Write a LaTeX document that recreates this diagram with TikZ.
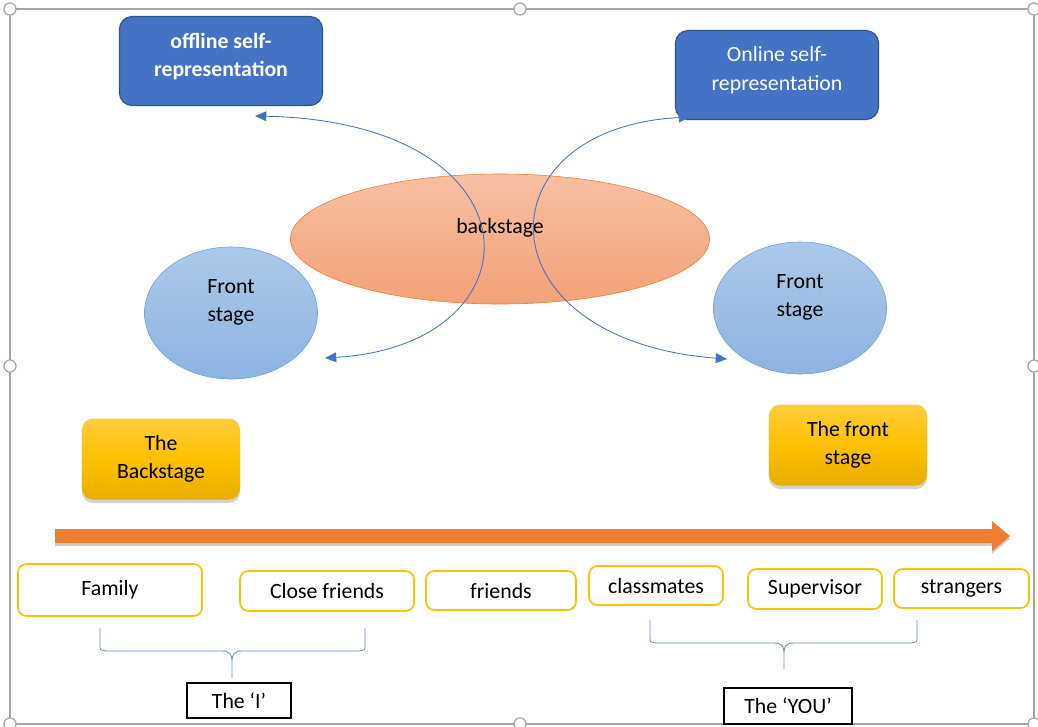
\documentclass[tikz,border=0pt]{standalone}
\usepackage{fontspec}
\setmainfont{Carlito}
\usetikzlibrary{
    arrows.meta,
    calc,
    positioning,
    shapes.geometric,
    shadows
}
\definecolor{selfblue}{HTML}{4472C4}
\definecolor{selfline}{HTML}{2F528F}
\definecolor{stageorange}{HTML}{ED7D31}
\definecolor{peachtop}{HTML}{F7BFA2}
\definecolor{peachbot}{HTML}{F3A277}
\definecolor{frontbluetop}{HTML}{ABC9EA}
\definecolor{frontbluebot}{HTML}{8DB3E2}
\definecolor{frontline}{HTML}{6F9FD8}
\definecolor{goldtop}{HTML}{FFCD3C}
\definecolor{goldmid}{HTML}{FFC000}
\definecolor{goldbot}{HTML}{E8AE00}
\definecolor{audline}{HTML}{FFC000}
\definecolor{framegray}{HTML}{A6A6A6}
\definecolor{bracecol}{HTML}{6C8EC9}
\newcommand{\diagfont}{\fontsize{15.5}{20.3}\selectfont}

\begin{document}
\begin{tikzpicture}[x=0.025cm, y=-0.025cm, >={Triangle[length=8pt, width=7pt]},
    font=\diagfont,
    selfbox/.style={draw=selfline, thick, fill=selfblue, rounded corners=9pt,
                    text=white, align=center, minimum width=5.075cm,
                    minimum height=2.225cm, text depth=9pt},
    stage/.style={ellipse, draw=frontline, top color=frontbluetop,
                  bottom color=frontbluebot, align=center, inner sep=0pt,
                  minimum width=4.325cm, minimum height=3.3cm, text depth=17.7pt},
    goldbox/.style={rounded corners=8pt, top color=goldtop, bottom color=goldbot,
                    middle color=goldmid, align=center, minimum width=3.95cm,
                    minimum height=2.025cm,
                    drop shadow={opacity=0.35, shadow xshift=0pt, shadow yshift=-2.5pt}},
    audience/.style={draw=audline, line width=1.2pt, rounded corners=6pt,
                     fill=white, minimum height=1cm},
    selfname/.style={draw, thick, fill=white, minimum height=0.9cm},
    swing/.style={<->, selfblue, line width=0.6pt},
    braceline/.style={bracecol, line width=0.6pt}]
    \useasboundingbox (0,0) rectangle (1038,726);
    % frame and handles
    \draw[framegray, line width=0.8pt] (10,9) rectangle (1034,724);
    \foreach \hx/\hy in {10/9, 520/9, 1034/9, 10/366, 1034/366, 10/724, 520/724, 1034/724}
        \draw[framegray, fill=white, line width=0.9pt] (\hx,\hy) circle (4.3pt);

    % top part
    \node[selfbox, font=\diagfont\bfseries] (offline) at (221,61) {offline self-\\representation};
    \node[selfbox] (online) at (777,75) {Online self-\\representation};
    \node[ellipse, draw=stageorange, top color=peachtop, bottom color=peachbot,
          minimum width=10.475cm, minimum height=3.25cm, text depth=18pt]
          (back) at (500,239) {backstage};
    \node[stage] (frontL) at (231,313) {Front\\stage};
    \node[stage] (frontR) at (800,308) {Front\\stage};

    \coordinate (offIn) at (255,116);
    \coordinate (frontLIn) at (325,358);
    \coordinate (onIn) at (690,117);
    \coordinate (frontRIn) at (727,359);
    \draw[swing] (offIn) .. controls (544,122) and (544,345) .. (frontLIn);
    \draw[swing] (onIn) .. controls (479,128) and (479,340) .. (frontRIn);

    % the scale
    \node[goldbox] (backI) at (161,459) {The\\Backstage};
    \node[goldbox] (frontYou) at (848,445) {The front\\stage};
    \coordinate (scaleL) at (55,536);
    \coordinate (scaleR) at (1010,536);
    \draw[black, opacity=0.2, line width=10.5pt, -{Triangle[width=0.72cm, length=0.45cm]}]
        ([yshift=-2pt]scaleL) -- ([yshift=-2pt]scaleR);
    \draw[stageorange, line width=10.5pt, -{Triangle[width=0.72cm, length=0.45cm]}]
        (scaleL) -- (scaleR);

    % audiences
    \node[audience, minimum width=4.6cm, minimum height=1.3cm] (family) at (110,590) {Family};
    \node[audience, minimum width=4.35cm] (close) at (327,591) {Close friends};
    \node[audience, minimum width=3.75cm, minimum height=0.975cm] (friends) at (501,590.5) {friends};
    \node[audience, minimum width=3.35cm, minimum height=0.975cm] (mates) at (656,585.5) {classmates};
    \node[audience, minimum width=3.35cm] (super) at (815,589) {Supervisor};
    \node[audience, minimum width=3.375cm, minimum height=0.975cm] (strange) at (961.5,588.5) {strangers};

    % braces
    \draw[braceline] (100,628) -- (100,645) .. controls (100,650) .. (106,651) -- (222,651)
        .. controls (230,651) and (232,654) .. (232,662) -- (232,678)
        (232,662) .. controls (232,654) and (234,651) .. (242,651) -- (359,651)
        .. controls (365,650) .. (365,645) -- (365,628);
    \draw[braceline] (650,620) -- (650,637) .. controls (650,642) .. (656,643) -- (774,643)
        .. controls (782,643) and (784,646) .. (784,653) -- (784,669)
        (784,653) .. controls (784,646) and (786,643) .. (794,643) -- (911,643)
        .. controls (917,642) .. (917,637) -- (917,620);
    \node[selfname, minimum width=2.6cm, minimum height=0.875cm] (theI) at (239,700.5) {The ‘I’};
    \node[selfname, minimum width=3.2cm] (theYou) at (788,706) {The ‘YOU’};
\end{tikzpicture}
\end{document}
